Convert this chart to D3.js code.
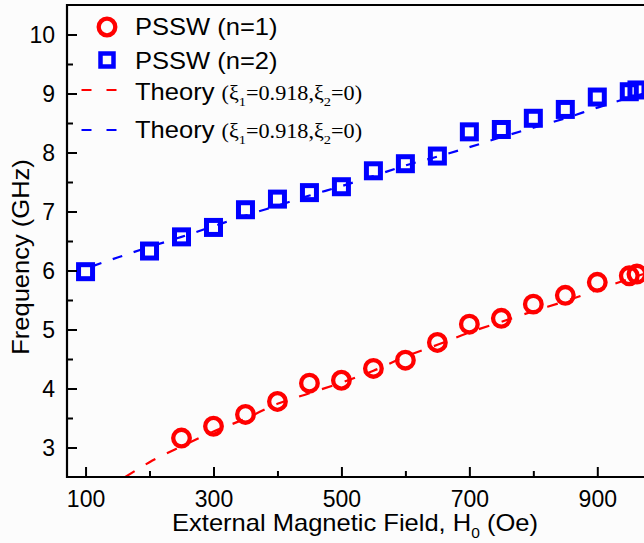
<!DOCTYPE html>
<html>
<head>
<meta charset="utf-8">
<script src="https://cdn.jsdelivr.net/npm/d3@7"></script>
<style>
  body { margin: 0; background: #fcfcfc; }
  svg { display: block; }
  text { font-family: "Liberation Sans", Arial, sans-serif; fill: #000; }
</style>
</head>
<body>
<div id="chart"></div>
<script>
// measured points, PSSW n=1 (red circles)
var fieldN1 = [250, 300, 350, 400, 450, 500, 550, 600, 650, 700, 750, 800, 850, 900, 950, 962];
var freqN1 = [3.16, 3.36, 3.56, 3.78, 4.09, 4.14, 4.34, 4.48, 4.78, 5.09, 5.19, 5.43, 5.58, 5.80, 5.91, 5.94];

// measured points, PSSW n=2 (blue squares)
var fieldN2 = [100, 200, 250, 300, 350, 400, 450, 500, 550, 600, 650, 700, 750, 800, 850, 900, 950, 962];
var freqN2 = [5.98, 6.33, 6.57, 6.73, 7.03, 7.21, 7.32, 7.42, 7.69, 7.81, 7.94, 8.35, 8.39, 8.58, 8.73, 8.94, 9.03, 9.06];

// theory curves
var theoryField1 = [162, 200, 250, 300, 350, 400, 450, 500, 550, 600, 650, 700, 750, 800, 850, 900, 950, 1000];
var theoryFreq1 = [2.50, 2.75, 3.02, 3.27, 3.49, 3.74, 3.92, 4.10, 4.30, 4.54, 4.74, 4.95, 5.13, 5.31, 5.48, 5.67, 5.86, 6.04];
var theoryField2 = [110, 150, 200, 250, 300, 350, 400, 450, 500, 550, 600, 650, 700, 750, 800, 850, 900, 950, 1000];
var theoryFreq2 = [6.07, 6.22, 6.40, 6.57, 6.75, 6.93, 7.10, 7.27, 7.43, 7.60, 7.78, 7.93, 8.09, 8.26, 8.42, 8.58, 8.76, 8.93, 9.08];

var xTicks = [100, 200, 300, 400, 500, 600, 700, 800, 900];
var xLabels = [100, 300, 500, 700, 900];
var yTicks = [3, 3.5, 4, 4.5, 5, 5.5, 6, 6.5, 7, 7.5, 8, 8.5, 9, 9.5, 10];

var W = 644, H = 543;
var plotLeft = 67, plotTop = 5, plotBottom = 477, plotRight = 644;
var stretch = 1.11; // text in the source is a bit wider than Arial

var svg = d3.select("#chart").append("svg")
  .attr("width", W)
  .attr("height", H);

svg.append("rect").attr("width", W).attr("height", H).attr("fill", "#fcfcfc");

// scales
var x = d3.scaleLinear().domain([71, 973]).range([plotLeft, plotRight]);
var y = d3.scaleLinear().domain([2.5, 10.5]).range([plotBottom, plotTop]);

svg.append("defs").append("clipPath").attr("id", "plotclip")
  .append("rect")
  .attr("x", plotLeft).attr("y", plotTop)
  .attr("width", plotRight - plotLeft).attr("height", plotBottom - plotTop);

var plot = svg.append("g").attr("clip-path", "url(#plotclip)");

// theory lines
var line = d3.line()
  .x(function(d) { return x(d[0]); })
  .y(function(d) { return y(d[1]); })
  .curve(d3.curveMonotoneX);

plot.append("path")
  .datum(d3.zip(theoryField1, theoryFreq1))
  .attr("d", line)
  .attr("fill", "none")
  .attr("stroke", "#ff0000")
  .attr("stroke-width", 2.2)
  .attr("stroke-dasharray", "11,13");

plot.append("path")
  .datum(d3.zip(theoryField2, theoryFreq2))
  .attr("d", line)
  .attr("fill", "none")
  .attr("stroke", "#0000ff")
  .attr("stroke-width", 2.2)
  .attr("stroke-dasharray", "10,12");

// markers
plot.selectAll(".sq")
  .data(d3.zip(fieldN2, freqN2))
  .enter().append("rect")
  .attr("class", "sq")
  .attr("x", function(d) { return x(d[0]) - 7; })
  .attr("y", function(d) { return y(d[1]) - 7; })
  .attr("width", 14)
  .attr("height", 14)
  .attr("fill", "none")
  .attr("stroke", "#0000ff")
  .attr("stroke-width", 5);

plot.selectAll(".ci")
  .data(d3.zip(fieldN1, freqN1))
  .enter().append("circle")
  .attr("class", "ci")
  .attr("cx", function(d) { return x(d[0]); })
  .attr("cy", function(d) { return y(d[1]); })
  .attr("r", 8.3)
  .attr("fill", "none")
  .attr("stroke", "#ff0000")
  .attr("stroke-width", 4.3);

// axes, ticks point inward
var xAxis = svg.append("g")
  .attr("transform", "translate(0," + plotBottom + ")")
  .call(d3.axisBottom(x).tickValues(xTicks).tickSize(0).tickFormat(""));
xAxis.select(".domain").remove();
xAxis.selectAll(".tick line")
  .attr("y2", function(d) { return xLabels.indexOf(d) >= 0 ? -10 : -6; })
  .attr("stroke", "#000").attr("stroke-width", 2);
xAxis.selectAll(".tick text")
  .attr("y", 30)
  .attr("dy", 0)
  .style("font-size", "23px")
  .text(function(d) { return xLabels.indexOf(d) >= 0 ? d : ""; });

var yAxis = svg.append("g")
  .attr("transform", "translate(" + plotLeft + ",0)")
  .call(d3.axisLeft(y).tickValues(yTicks).tickSize(0).tickFormat(""));
yAxis.select(".domain").remove();
yAxis.selectAll(".tick line")
  .attr("x2", function(d) { return d % 1 === 0 ? 10 : 6; })
  .attr("stroke", "#000").attr("stroke-width", 2);
yAxis.selectAll(".tick text")
  .attr("x", -12)
  .attr("dy", "0.36em")
  .style("font-size", "23px")
  .text(function(d) { return d % 1 === 0 ? d : ""; });

// frame lines: left, bottom, top
svg.append("path")
  .attr("d", "M" + plotRight + "," + plotTop + "H" + plotLeft + "V" + plotBottom + "H" + plotRight)
  .attr("fill", "none")
  .attr("stroke", "#000")
  .attr("stroke-width", 2.2);

// axis titles
var xt = svg.append("g")
  .attr("transform", "translate(355,531) scale(" + stretch + ",1)")
  .append("text")
  .attr("text-anchor", "middle")
  .style("font-size", "23px");
xt.append("tspan").text("External Magnetic Field, H");
xt.append("tspan").attr("dy", 7).style("font-size", "14px").text("0");
xt.append("tspan").attr("dy", -7).text(" (Oe)");

svg.append("g")
  .attr("transform", "translate(29,257) rotate(-90) scale(" + stretch + ",1)")
  .append("text")
  .attr("text-anchor", "middle")
  .style("font-size", "23px")
  .text("Frequency (GHz)");

// legend
var legend = svg.append("g");
legend.append("circle")
  .attr("cx", 107).attr("cy", 27).attr("r", 8.3)
  .attr("fill", "none").attr("stroke", "#ff0000").attr("stroke-width", 4.3);
legend.append("g")
  .attr("transform", "translate(135,34.5) scale(" + stretch + ",1)")
  .append("text").style("font-size", "23px").text("PSSW (n=1)");

legend.append("rect")
  .attr("x", 100.5).attr("y", 53.5).attr("width", 13).attr("height", 13)
  .attr("fill", "none").attr("stroke", "#0000ff").attr("stroke-width", 4.5);
legend.append("g")
  .attr("transform", "translate(135,68.5) scale(" + stretch + ",1)")
  .append("text").style("font-size", "23px").text("PSSW (n=2)");

var theoryRows = [
  { color: "#ff0000", yLine: 90, yText: 100 },
  { color: "#0000ff", yLine: 130, yText: 138 }
];
theoryRows.forEach(function(r) {
  legend.append("line")
    .attr("x1", 81.5).attr("x2", 117).attr("y1", r.yLine).attr("y2", r.yLine)
    .attr("stroke", r.color).attr("stroke-width", 2.2)
    .attr("stroke-dasharray", "10,15");
  var t = legend.append("g")
    .attr("transform", "translate(135," + r.yText + ") scale(" + stretch + ",1)")
    .append("text").style("font-size", "23px");
  t.append("tspan").text("Theory ");
  var s = function(str, dy, size) {
    return t.append("tspan")
      .style("font-family", "'Liberation Serif', 'Times New Roman', serif")
      .style("font-size", size + "px")
      .attr("dy", dy)
      .text(str);
  };
  s("(\u03BE", 0, 20);
  s("1", 6, 13);
  s("=0.918,\u03BE", -6, 20);
  s("2", 6, 13);
  s("=0)", -6, 20);
});
</script>
</body>
</html>
